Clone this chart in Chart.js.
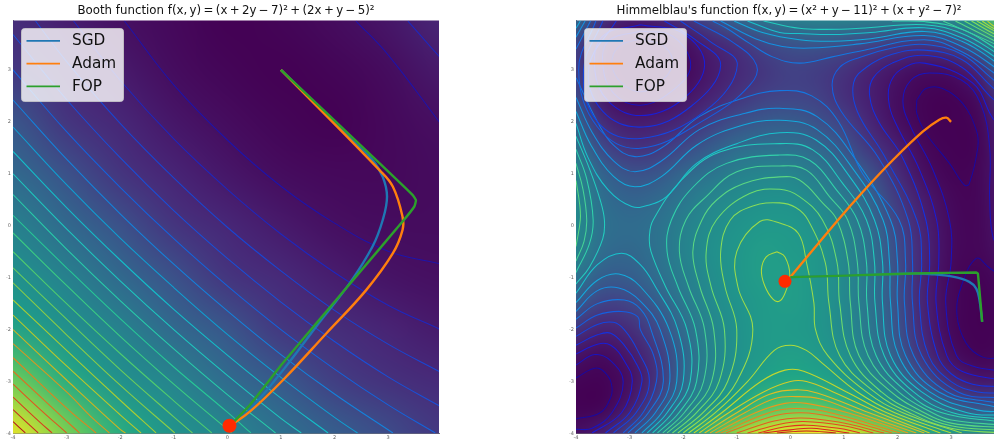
<!DOCTYPE html>
<html lang="en">
<head>
<meta charset="UTF-8">
<title>Booth and Himmelblau</title>
<script src="https://cdn.jsdelivr.net/npm/chart.js@4"></script>
<style>
html, body { margin: 0; padding: 0; width: 994px; height: 440px; overflow: hidden; background: #fff; }
.box { position: absolute; top: 0; width: 440px; height: 440px; }
</style>
</head>
<body>
<div class="box" style="left:0"><canvas id="booth"></canvas></div>
<div class="box" style="left:563px"><canvas id="himmel"></canvas></div>
<script>
// axis ticks
const tickValues = [-4, -3, -2, -1, 0, 1, 2, 3];
const seriesNames = ["SGD", "Adam", "FOP"];

// background shade, rows y = 4 .. -4, columns x = -4 .. 4 (0-100 along viridis)
const boothShade = [
  [13, 8, 4, 2, 0, 1, 3, 6, 11],
  [16, 12, 7, 3, 1, 0, 1, 3, 7],
  [27, 15, 11, 6, 3, 1, 0, 2, 4],
  [34, 25, 15, 10, 6, 3, 2, 2, 3],
  [44, 34, 25, 15, 11, 7, 4, 3, 3],
  [50, 44, 34, 25, 15, 12, 8, 5, 4],
  [58, 50, 44, 34, 27, 16, 13, 10, 7],
  [78, 62, 50, 45, 35, 28, 18, 14, 12],
  [97, 80, 62, 51, 46, 37, 30, 23, 16]
];
const himmelShade = [
  [35, 18, 12, 13, 18, 25, 33, 39, 43, 45, 45, 44, 43, 44, 47, 56, 80],
  [23, 7, 1, 2, 6, 13, 18, 24, 27, 28, 26, 23, 20, 19, 22, 33, 50],
  [22, 5, 0, 1, 4, 10, 15, 19, 22, 21, 18, 13, 9, 6, 7, 14, 33],
  [25, 9, 3, 4, 8, 13, 18, 22, 23, 22, 17, 12, 6, 2, 1, 6, 21],
  [32, 16, 11, 12, 15, 21, 26, 29, 30, 27, 22, 14, 7, 2, 0, 3, 15],
  [39, 24, 18, 19, 24, 30, 35, 37, 37, 34, 28, 19, 12, 4, 1, 2, 13],
  [45, 32, 27, 28, 33, 38, 43, 45, 45, 41, 35, 27, 16, 7, 2, 3, 12],
  [47, 36, 32, 34, 39, 45, 48, 50, 50, 47, 41, 32, 20, 11, 4, 3, 11],
  [47, 37, 35, 37, 43, 48, 51, 53, 53, 50, 45, 35, 23, 13, 5, 3, 10],
  [45, 35, 33, 37, 44, 49, 52, 55, 54, 52, 46, 37, 25, 14, 5, 3, 8],
  [38, 30, 30, 35, 42, 48, 52, 55, 55, 52, 47, 38, 26, 13, 4, 1, 5],
  [29, 22, 23, 30, 39, 47, 51, 54, 55, 52, 47, 38, 26, 13, 4, 0, 3],
  [18, 13, 16, 24, 35, 45, 50, 54, 54, 52, 47, 39, 27, 14, 4, 0, 2],
  [8, 5, 10, 19, 32, 44, 50, 54, 56, 54, 50, 42, 30, 17, 7, 2, 4],
  [2, 1, 7, 18, 33, 46, 52, 58, 60, 59, 54, 48, 38, 26, 15, 10, 11],
  [1, 2, 11, 24, 40, 51, 60, 70, 75, 74, 68, 59, 50, 42, 32, 27, 29],
  [7, 12, 23, 39, 52, 68, 84, 94, 98, 99, 96, 88, 77, 62, 55, 51, 52]
];

// Booth contours, outermost valley first
const boothLines = [
  [[3.37,3.94],[3.65,3.61],[3.96,3.25]],
  [[2.4,3.94],[3,3.29],[3.96,1.99]],
  [[-1.92,3.94],[-1,2.71],[0,1.65],[1,.76],[2,.05],[3,-.49],[3.96,-.73]],
  [[-2.87,3.94],[-2,2.8],[-1,1.67],[0,.7],[1,-.16],[2,-.9],[3,-1.53],[3.96,-1.99]],
  [[-3.58,3.94],[-3,3.16],[-2,1.97],[-1,.92],[0,-.03],[1,-.87],[2,-1.63],[3,-2.28],[3.96,-2.81]],
  [[-4,3.68],[-3,2.43],[-2,1.31],[-1,.29],[0,-.63],[1,-1.47],[2,-2.23],[3,-2.91],[3.96,-3.47]],
  [[-4,3],[-3,1.81],[-2,.74],[-1,-.25],[0,-1.16],[1,-2],[2,-2.76],[3,-3.45],[3.88,-3.99]],
  [[-4,2.42],[-3,1.28],[-2,.23],[-1,-.74],[0,-1.64],[1,-2.48],[2,-3.24],[3.09,-3.99]],
  [[-4,1.9],[-3,.79],[-2,-.24],[-1,-1.19],[0,-2.09],[1,-2.92],[2,-3.69],[2.43,-3.99]],
  [[-4,1.43],[-3,.35],[-2,-.66],[-1,-1.61],[0,-2.49],[1,-3.32],[1.88,-3.99]],
  [[-4,1],[-3,-.06],[-2,-1.06],[-1,-2],[0,-2.88],[1,-3.71],[1.38,-3.99]],
  [[-4,.6],[-3,-.45],[-2,-1.44],[-1,-2.37],[0,-3.25],[.9,-3.99]],
  [[-4,.2],[-3,-.81],[-2,-1.79],[-1,-2.72],[0,-3.59],[.44,-3.99]],
  [[-4,-.14],[-3,-1.15],[-2,-2.13],[-1,-3.05],[0,-3.92],[.08,-3.99]],
  [[-4,-.5],[-3,-1.5],[-2,-2.46],[-1,-3.37],[-.29,-3.99]],
  [[-4,-.81],[-3,-1.8],[-2,-2.77],[-1,-3.68],[-.65,-3.99]],
  [[-4,-1.1],[-3,-2.1],[-2,-3.07],[-.98,-3.99]],
  [[-4,-1.43],[-3,-2.4],[-2,-3.36],[-1.33,-3.99]],
  [[-4,-1.72],[-3,-2.7],[-2,-3.64],[-1.61,-3.99]],
  [[-4,-2],[-3,-2.97],[-2,-3.92],[-1.9,-3.99]],
  [[-4,-2.27],[-3,-3.2],[-2.5,-3.72],[-2.2,-3.99]],
  [[-4,-2.54],[-3,-3.51],[-2.45,-3.99]],
  [[-4,-2.8],[-3,-3.76],[-2.76,-3.99]],
  [[-4,-3.05],[-3.5,-3.53],[-3,-3.99]],
  [[-4,-3.3],[-3.5,-3.78],[-3.27,-3.99]],
  [[-4,-3.54],[-3.53,-3.99]],
  [[-4,-3.77],[-3.77,-3.99]]
];
const boothColors = ["#1e28be","#1e14aa","#1e14aa","#1e28be","#1946d2","#1950d7","#1464dc","#1482dc","#0fa0d2","#14bec8","#1ec8be","#28cdaa","#28c896","#3ccd82","#50cd6e","#6ecd5a","#8ccd46","#aacd32","#bec828","#d2b41e","#dc961e","#e1821e","#e16e1e","#e1551e","#d73c1e","#c8281e","#b4141e"];

// Himmelblau contours by level, each level can have several pieces
const him10 = [
  [[-2.8,3.6],[-2.35,3.45],[-2.2,3.1],[-2.45,2.75],[-2.8,2.58],[-3.15,2.75],[-3.33,3.1],[-3.2,3.45],[-2.8,3.6]],
  [[2.36,2.42],[2.53,2.64],[2.84,2.64],[3.22,2.35],[3.47,1.84],[3.5,1.52],[3.34,.81],[3.25,.78],[2.97,1.2],[2.53,1.78],[2.36,2.16],[2.36,2.42]],
  [[3.96,-1.0],[3.7,-.8],[3.47,-.63],[3.19,-1.17],[3.11,-1.72],[3.28,-2.26],[3.59,-2.53],[3.96,-2.55]],
  [[-4,-2.93],[-3.62,-2.74],[-3.4,-2.9],[-3.33,-3.1],[-3.35,-3.3],[-3.55,-3.6],[-4,-3.72]]
];
const him20 = [
  [[-2.8,3.75],[-2.2,3.65],[-1.86,3.09],[-2.2,2.6],[-2.8,2.32],[-3.3,2.55],[-3.5,3.1],[-3.4,3.55],[-2.8,3.75]],
  [[3.96,-.4],[3.79,-.25],[3.72,.5],[3.72,1.5],[3.55,2.35],[3.2,2.8],[2.6,2.94],[2.25,2.8],[2.1,2.4],[2.25,1.9],[2.65,1.1],[2.97,.11],[3,-.7],[2.9,-1.49],[3.1,-2.5],[3.4,-2.7],[3.96,-2.8]],
  [[-4,-2.68],[-3.65,-2.48],[-3.35,-2.6],[-3.12,-3],[-3.33,-3.6],[-3.7,-3.9],[-4,-3.92]]
];
const him30 = [
  [[-2.8,3.87],[-2,3.7],[-1.6,3.09],[-2.05,2.4],[-2.8,2.12],[-3.4,2.4],[-3.65,3],[-3.5,3.65],[-2.8,3.87]],
  [[3.96,1.95],[3.79,2.05],[3.4,2.75],[2.5,3.13],[2.05,3],[1.85,2.7],[1.85,2.3],[2,1.9],[2.4,1.1],[2.73,.11],[2.77,-.7],[2.72,-1.49],[2.92,-2.5],[3.2,-2.8],[3.96,-2.98]],
  [[-4,-2.47],[-3.6,-2.28],[-3.35,-2.3],[-3.1,-2.6],[-2.95,-3],[-3.15,-3.6],[-3.7,-3.99]]
];
const him40 = [
  [[-2.35,3.94],[-1.8,3.6],[-1.3,3.09],[-1.85,2.3],[-2.75,1.9],[-3.5,2.2],[-3.76,3.05],[-3.25,3.94]],
  [[3.96,2.35],[3.79,2.43],[3.2,3.05],[2.5,3.28],[1.9,3.13],[1.55,2.85],[1.48,2.5],[1.65,2],[2.1,1.3],[2.53,.11],[2.6,-.7],[2.56,-1.49],[2.75,-2.5],[3,-2.85],[3.4,-3.05],[3.96,-3.1]],
  [[-4,-2.3],[-3.6,-2.1],[-3.35,-2.07],[-3.1,-2.3],[-2.85,-2.7],[-2.77,-3],[-3,-3.6],[-3.45,-3.99]]
];
const him50 = [
  [[-2.05,3.94],[-1.5,3.55],[-.99,3.09],[-1.6,2.2],[-2.8,1.68],[-3.6,2],[-3.86,3],[-3.5,3.94]],
  [[3.96,2.55],[3.79,2.65],[3.2,3.2],[2.5,3.38],[1.9,3.3],[1.42,3.05],[1.18,2.75],[1.25,2.2],[1.75,1.35],[2.36,.11],[2.45,-.7],[2.41,-1.49],[2.58,-2.5],[3,-3],[3.5,-3.2],[3.96,-3.22]],
  [[-4,-2.13],[-3.6,-1.9],[-3.3,-1.86],[-3.1,-2],[-2.85,-2.4],[-2.63,-3],[-2.88,-3.6],[-3.3,-3.99]]
];
const him60 = [
  [[-1.8,3.94],[-1.07,3.53],[-.63,3.09],[-.76,2.7],[-1.5,2.1],[-2.8,1.49],[-3.6,1.9],[-3.95,3],[-3.63,3.94]],
  [[3.96,2.7],[3.79,2.81],[3.2,3.3],[2.5,3.49],[1.9,3.42],[1.29,3.24],[.92,3.05],[.78,2.7],[.95,2.2],[1.65,1.3],[2.2,.11],[2.28,-.7],[2.28,-1.49],[2.45,-2.5],[3.13,-3.2],[3.96,-3.32]],
  [[-4,-1.97],[-3.6,-1.72],[-3.15,-1.65],[-2.85,-1.75],[-2.8,-2],[-2.55,-2.5],[-2.5,-3],[-2.75,-3.6],[-3.12,-3.99]]
];
const him70 = [
  [[-4,2.85],[-3.6,2],[-3.3,1.55],[-2.9,1.33],[-2.4,1.5],[-1.7,2.1],[-.9,2.45],[-.2,2.6],[.4,2.5],[.9,2],[1.35,1],[2.03,.11],[2.15,-.7],[2.13,-1.49],[2.3,-2.5],[2.93,-3.2],[3.79,-3.4],[3.96,-3.42]],
  [[-1.45,3.94],[-1.19,3.8],[-.76,3.51],[-.33,3.25],[.17,3.13],[.78,3.25],[1.29,3.36],[2.5,3.58],[3.2,3.35],[3.79,2.95],[3.96,2.8]],
  [[-4,3.4],[-3.73,3.94]],
  [[-4,-1.8],[-3.6,-1.5],[-3.1,-1.43],[-2.8,-1.6],[-2.6,-2],[-2.37,-3],[-2.65,-3.6],[-3.03,-3.99]]
];
const him80 = [
  [[-4,2.47],[-3.7,1.8],[-3.3,1.25],[-2.9,1.04],[-2.4,1.25],[-1.7,1.85],[-.9,2.15],[-.2,2.26],[.5,2.1],[1.2,1.3],[1.87,.11],[2,-.7],[2,-1.49],[2.15,-2.5],[2.77,-3.2],[3.79,-3.48],[3.96,-3.5]],
  [[-1.3,3.94],[-.65,3.6],[-.15,3.45],[.36,3.42],[1.29,3.5],[2.5,3.66],[3.2,3.45],[3.79,3.07],[3.96,2.9]],
  [[-4,3.63],[-3.83,3.94]],
  [[-4,-1.65],[-3.6,-1.25],[-3.2,-1.2],[-2.8,-1.45],[-2.43,-2],[-2.25,-3],[-2.52,-3.6],[-2.9,-3.99]]
];
const him90 = [
  [[-4,2.2],[-3.72,1.55],[-3.3,.95],[-2.9,.75],[-2.4,.95],[-1.75,1.55],[-1,1.9],[-.2,2.03],[.5,1.85],[1.2,1.05],[1.73,.11],[1.85,-.7],[1.87,-1.49],[2.02,-2.5],[2.6,-3.2],[3.5,-3.55],[3.96,-3.58]],
  [[-1.05,3.94],[-.52,3.72],[.17,3.58],[.8,3.55],[1.5,3.6],[2.5,3.74],[3.2,3.55],[3.79,3.18],[3.96,3]],
  [[-4,3.8],[-3.92,3.94]],
  [[-4,-1.48],[-3.6,-1.05],[-3.2,-.93],[-2.8,-1.17],[-2.26,-2],[-2.12,-3],[-2.4,-3.6],[-2.77,-3.99]]
];
const him100 = [
  [[-4,1.97],[-3.78,1.32],[-3.4,.69],[-2.96,.37],[-2.63,.4],[-2.31,.56],[-1.75,1.2],[-1,1.58],[-.2,1.79],[.48,1.65],[1.11,.94],[1.57,.11],[1.72,-.7],[1.72,-1.49],[1.87,-2.5],[2.45,-3.2],[3.3,-3.6],[3.96,-3.65]],
  [[-.8,3.94],[-.2,3.72],[.17,3.7],[.8,3.68],[1.5,3.72],[2.5,3.81],[3.2,3.62],[3.79,3.27],[3.96,3.1]],
  [[-4,-1.3],[-3.6,-.75],[-3.15,-.53],[-2.8,-.75],[-2.52,-1.17],[-2.1,-2],[-2,-3],[-2.3,-3.6],[-2.67,-3.99]]
];
const him110 = [
  [[-2.57,-3.99],[-2.2,-3.6],[-1.87,-3],[-1.93,-2],[-2.33,-1.17],[-2.6,-.5],[-2.63,-.2],[-2.56,.11],[-2.03,.88],[-1.32,1.42],[-.2,1.58],[.42,1.46],[.98,.81],[1.42,.11],[1.57,-.7],[1.58,-1.49],[1.75,-2.5],[2.3,-3.2],[3.03,-3.6],[3.96,-3.72]],
  [[-.5,3.94],[.17,3.8],[.67,3.78],[1.3,3.8],[2.5,3.87],[3.2,3.7],[3.79,3.36],[3.96,3.2]],
  [[-4,1.72],[-3.75,1.1],[-3.55,.5],[-3.47,.11],[-3.5,-.25],[-3.75,-.8],[-4,-1.12]]
];
const him120 = [
  [[-2.48,-3.99],[-2.08,-3.6],[-1.75,-3],[-1.77,-2],[-2.1,-1.17],[-2.3,-.5],[-2.22,.11],[-1.81,.75],[-1.19,1.2],[-.2,1.36],[.36,1.26],[.86,.69],[1.25,.11],[1.42,-.7],[1.43,-1.49],[1.6,-2.5],[2.17,-3.2],[2.83,-3.6],[3.96,-3.78]],
  [[1.9,3.94],[2.5,3.93],[3.2,3.78],[3.79,3.44],[3.96,3.3]],
  [[-4,1.47],[-3.8,.9],[-3.68,.11],[-3.75,-.35],[-4,-.9]]
];
const him130 = [
  [[-2.38,-3.99],[-1.98,-3.6],[-1.62,-3],[-1.6,-2],[-1.9,-1.17],[-2.07,-.5],[-1.95,.11],[-1.57,.56],[-1,1.04],[-.2,1.15],[.3,1.07],[.73,.56],[1.07,.11],[1.25,-.7],[1.28,-1.49],[1.45,-2.5],[2.02,-3.2],[2.65,-3.6],[3,-3.74],[3.96,-3.84]],
  [[2.85,3.94],[3.79,3.51],[3.96,3.4]],
  [[-4,1.2],[-3.87,.7],[-3.8,.11],[-3.85,-.3],[-4,-.68]]
];
const him140 = [
  [[-2.3,-3.99],[-1.87,-3.6],[-1.47,-3],[-1.43,-2],[-1.69,-1.17],[-1.82,-.5],[-1.65,.11],[-1.38,.49],[-.88,.81],[-.2,.94],[.17,.88],[.61,.43],[.87,.11],[1.08,-.7],[1.12,-1.49],[1.28,-2.5],[1.88,-3.2],[2.5,-3.6],[3,-3.8],[3.96,-3.89]],
  [[3.08,3.94],[3.79,3.57],[3.96,3.47]],
  [[-4,.87],[-3.93,.4],[-3.92,.11],[-4,-.4]]
];
const him150 = [
  [[-2.2,-3.99],[-1.75,-3.6],[-1.33,-3],[-1.23,-2],[-1.48,-1.17],[-1.57,-.5],[-1.38,.11],[-.76,.62],[-.2,.7],[.17,.56],[.6,.11],[.87,-.7],[.92,-1.49],[1.12,-2.5],[1.7,-3.2],[2.36,-3.6],[3,-3.85],[3.96,-3.94]],
  [[3.25,3.94],[3.79,3.64],[3.96,3.55]]
];
const him160 = [
  [[-2.1,-3.99],[-1.63,-3.6],[-1.17,-3],[-1,-2],[-1.22,-1.17],[-1.3,-.5],[-1.12,.11],[-.7,.38],[-.2,.44],[.1,.35],[.33,.11],[.65,-.7],[.72,-1.49],[.92,-2.5],[1.57,-3.2],[2.22,-3.6],[3,-3.9],[3.96,-3.99]],
  [[3.38,3.94],[3.79,3.7],[3.96,3.62]]
];
const him170 = [
  [[-2,-3.99],[-1.52,-3.6],[-1,-3],[-.7,-2],[-.98,-1.17],[-1,-.5],[-.57,.08],[-.2,.05],[.15,-.15],[.3,-.7],[.44,-1.49],[.47,-2],[.7,-2.5],[1.42,-3.2],[2.1,-3.6],[3.2,-3.99]],
  [[3.48,3.94],[3.79,3.76],[3.96,3.68]]
];
const him180 = [
  [[-.25,-.5],[-.1,-.6],[-.01,-.95],[-.1,-1.3],[-.2,-1.45],[-.32,-1.42],[-.48,-1.15],[-.54,-.85],[-.45,-.6],[-.25,-.5]],
  [[-1.9,-3.99],[-1.4,-3.6],[-.8,-3],[-.3,-2.4],[0,-2.3],[.3,-2.4],[.6,-2.65],[1.25,-3.2],[1.95,-3.6],[3,-3.99]],
  [[3.58,3.94],[3.79,3.8],[3.96,3.74]]
];
const him190 = [
  [[-1.8,-3.99],[-1.28,-3.6],[-.55,-3],[-.1,-2.78],[.25,-2.8],[1.05,-3.2],[1.8,-3.6],[2.8,-3.99]],
  [[3.68,3.94],[3.79,3.85],[3.96,3.78]]
];
const him200 = [[[-1.7,-3.99],[-1.15,-3.6],[-.5,-3.2],[0,-3],[.3,-3],[.8,-3.2],[1.65,-3.6],[2.6,-3.99]]];
const him210 = [[[-1.6,-3.99],[-1,-3.6],[-.4,-3.25],[.1,-3.16],[.5,-3.22],[1.47,-3.6],[2.5,-3.99]]];
const him220 = [[[-1.5,-3.99],[-.85,-3.6],[-.3,-3.33],[.1,-3.29],[.55,-3.33],[1.27,-3.6],[2.35,-3.99]]];
const him230 = [[[-1.4,-3.99],[-.65,-3.6],[-.1,-3.42],[.3,-3.42],[1.07,-3.6],[2.2,-3.99]]];
const him240 = [[[-1.3,-3.99],[-.4,-3.6],[.1,-3.52],[.75,-3.6],[2.05,-3.99]]];
const him250 = [[[-1.2,-3.99],[-.3,-3.66],[.2,-3.6],[.8,-3.68],[1.9,-3.99]]];
const him260 = [[[-1,-3.99],[-.3,-3.76],[.2,-3.7],[.9,-3.78],[1.75,-3.99]]];
const him270 = [[[-.8,-3.99],[-.2,-3.82],[.25,-3.77],[1,-3.85],[1.55,-3.99]]];
const him280 = [[[-.6,-3.99],[-.1,-3.87],[.3,-3.84],[.9,-3.9],[1.3,-3.99]]];
const him290 = [[[-.5,-3.99],[0,-3.93],[.4,-3.9],[1.1,-3.99]]];
const him300 = [[[-.25,-3.99],[.3,-3.95],[.85,-3.99]]];
const himLevels = [him10, him20, him30, him40, him50, him60, him70, him80, him90, him100, him110, him120, him130, him140, him150, him160, him170, him180, him190, him200, him210, him220, him230, him240, him250, him260, him270, him280, him290, him300];
const himColors = ["#190aa0","#1914be","#191ed7","#1432e1","#1446e1","#145fe1","#1478e1","#1491e1","#14aadc","#19c3cd","#23cdbe","#32d2aa","#46d296","#5ad782","#6edc6e","#87dc5a","#9bdc4b","#afdc3c","#c3d72d","#d2cd28","#e1be23","#e6aa1e","#eb961e","#eb821e","#eb6e1e","#e65a1e","#e6461e","#e1321e","#d7231e","#c8191e"];

// optimiser paths
const boothSgd = [[1,3],[2.28,1.7],[2.7,1.28],[2.9,.94],[2.98,.56],[2.9,.11],[2.71,-.4],[2.28,-1.11],[1.66,-1.94],[1.04,-2.78],[.42,-3.54],[.05,-3.85]];
const boothAdam = [[1,3],[2.84,1.07],[3.09,.75],[3.27,.17],[3.27,-.08],[3.09,-.53],[2.59,-1.24],[1.85,-2.07],[1.04,-2.97],[.42,-3.58],[.05,-3.85]];
const boothFop = [[1,3],[2.71,1.33],[3.46,.59],[3.52,.49],[3.49,.37],[3.27,.08],[2.4,-.98],[1.66,-1.88],[1.04,-2.64],[.42,-3.45],[.05,-3.85]];
const boothEnd = [[.04,-3.85]];
const himSgd = [[0,-.99],[1.04,-.96],[2.29,-.92],[2.6,-.93],[3.03,-.98],[3.34,-1.08],[3.47,-1.21],[3.53,-1.43],[3.58,-1.85]];
const himAdam = [[0,-.99],[.89,.11],[1.35,.65],[1.91,1.26],[2.47,1.81],[2.78,2.04],[2.91,2.08],[3,2]];
const himFop = [[0,-.99],[1.04,-.96],[2.29,-.92],[3.47,-.9],[3.5,-.92],[3.58,-1.85]];
const himEnd = [[-.1,-1.07]];

const viridis = ["#440154","#482475","#414487","#355f8d","#2a788e","#21918c","#22a884","#44bf70","#7ad151","#bddf26","#fde725"];
const pathColors = ["#1f77b4", "#ff7f0e", "#2ca02c"];

function hexRgb(h) {
    return [parseInt(h.slice(1, 3), 16), parseInt(h.slice(3, 5), 16), parseInt(h.slice(5, 7), 16)];
}
function shadeRgb(v) {
    var t = v / 100 * (viridis.length - 1);
    var i = Math.min(Math.floor(t), viridis.length - 2);
    var a = hexRgb(viridis[i]), b = hexRgb(viridis[i + 1]), f = t - i;
    return [0, 1, 2].map(k => Math.round(a[k] + (b[k] - a[k]) * f));
}
// bend darkens the low end of the colour ramp
function shadeCanvas(grid, bend) {
    var c = document.createElement("canvas");
    c.width = grid[0].length;
    c.height = grid.length;
    var g = c.getContext("2d");
    var img = g.createImageData(c.width, c.height);
    grid.forEach((row, r) => row.forEach((v, q) => {
        var w = v < 33 ? v * Math.pow(v / 33, bend) : v;
        var rgb = shadeRgb(w), o = (r * c.width + q) * 4;
        img.data[o] = rgb[0]; img.data[o + 1] = rgb[1]; img.data[o + 2] = rgb[2]; img.data[o + 3] = 255;
    }));
    g.putImageData(img, 0, 0);
    return c;
}

// paints the shade grid behind the datasets, placed with the chart's scales
const shadePlugin = {
    id: "shade",
    beforeDatasetsDraw(chart, args, opts) {
        var a = chart.chartArea, ctx = chart.ctx, x = chart.scales.x, y = chart.scales.y;
        var src = opts.image;
        var x0 = x.getPixelForValue(-4), x1 = x.getPixelForValue(4);
        var y0 = y.getPixelForValue(4), y1 = y.getPixelForValue(-4);
        ctx.save();
        ctx.beginPath();
        ctx.rect(a.left, a.top, a.right - a.left, a.bottom - a.top);
        ctx.clip();
        ctx.imageSmoothingEnabled = true;
        ctx.imageSmoothingQuality = "high";
        ctx.drawImage(src, .5, .5, src.width - 1, src.height - 1, x0, y0, x1 - x0, y1 - y0);
        ctx.restore();
    }
};

// matplotlib style legend in the upper left corner
const cornerLegend = {
    id: "cornerLegend",
    afterDraw(chart) {
        var ctx = chart.ctx, a = chart.chartArea;
        var left = a.left + 8.5, top = a.top + 8;
        ctx.save();
        ctx.beginPath();
        ctx.roundRect(left, top, 102, 73, 3);
        ctx.fillStyle = "rgba(255,255,255,0.8)";
        ctx.fill();
        ctx.strokeStyle = "rgba(204,204,204,0.8)";
        ctx.lineWidth = 1;
        ctx.stroke();
        ctx.font = "15.3px 'DejaVu Sans'";
        ctx.textBaseline = "middle";
        seriesNames.forEach((name, i) => {
            var yy = top + 12.4 + i * 22.7;
            ctx.strokeStyle = pathColors[i];
            ctx.lineWidth = 1.8;
            ctx.beginPath();
            ctx.moveTo(left + 5, yy);
            ctx.lineTo(left + 38.5, yy);
            ctx.stroke();
            ctx.fillStyle = "#111";
            ctx.fillText(name, left + 50.5, yy + .5);
        });
        ctx.restore();
    }
};

function toPoints(list) {
    return list.map(p => ({ x: p[0], y: p[1] }));
}
function contourSet(points, color) {
    return { data: toPoints(points), showLine: true, borderColor: color, borderWidth: 1.05, pointRadius: 0, tension: .4, order: 10 };
}
function pathSet(points, color, tension, order) {
    return { data: toPoints(points), showLine: true, borderColor: color, borderWidth: 2.4, pointRadius: 0, tension: tension, order: order };
}
function noPadding(s) {
    s.paddingLeft = s.paddingRight = s.paddingTop = s.paddingBottom = 0;
}

function makeChart(id, titleText, contours, shade, bend, paths, end, radius) {
    var sets = contours.concat([
        pathSet(paths[0], pathColors[0], .4, 3),
        pathSet(paths[1], pathColors[1], .4, 2),
        pathSet(paths[2], pathColors[2], .12, 1),
        { data: toPoints(end), pointRadius: radius, pointBackgroundColor: "#ff2a00", pointBorderWidth: 0, order: 0 }
    ]);
    return new Chart(document.getElementById(id), {
        type: "scatter",
        data: { datasets: sets },
        plugins: [shadePlugin, cornerLegend],
        options: {
            responsive: false,
            animation: false,
            events: [],
            layout: { autoPadding: false, padding: { right: 1 } },
            plugins: {
                legend: { display: false },
                tooltip: { enabled: false },
                shade: { image: shadeCanvas(shade, bend) },
                title: {
                    display: true,
                    text: titleText,
                    fullSize: false,
                    color: "#111",
                    font: { family: "'DejaVu Sans'", size: 11.8, weight: "normal", lineHeight: 1.2 },
                    padding: { top: 4.3, bottom: 2.06 }
                }
            },
            scales: {
                x: {
                    type: "linear", min: -4, max: 3.95,
                    grid: { display: false, drawTicks: false },
                    border: { color: "#777", width: 1 },
                    afterBuildTicks(s) { s.ticks = tickValues.map(v => ({ value: v })); },
                    afterFit(s) { s.height = 6.5; noPadding(s); },
                    ticks: { autoSkip: false, padding: 1, maxRotation: 0, color: "#666", font: { family: "'DejaVu Sans'", size: 5 } }
                },
                y: {
                    type: "linear", min: -4, max: 3.95,
                    grid: { display: false, drawTicks: false },
                    border: { color: "#777", width: 1 },
                    afterBuildTicks(s) { s.ticks = tickValues.map(v => ({ value: v })); },
                    afterFit(s) { s.width = 13; noPadding(s); },
                    ticks: { autoSkip: false, padding: 2, color: "#666", font: { family: "'DejaVu Sans'", size: 5 } }
                }
            }
        }
    });
}

var boothContours = boothLines.map((l, i) => contourSet(l, boothColors[i]));
var himContours = [];
himLevels.forEach((pieces, i) => pieces.forEach(p => himContours.push(contourSet(p, himColors[i]))));

document.getElementById("booth").width = 440;
document.getElementById("booth").height = 440;
document.getElementById("himmel").width = 440;
document.getElementById("himmel").height = 440;

makeChart("booth", "Booth function f(x,\u2009y)\u2009=\u2009(x\u2009+\u20092y\u2009\u2212\u20097)\u00b2\u2009+\u2009(2x\u2009+\u2009y\u2009\u2212\u20095)\u00b2", boothContours, boothShade, 0, [boothSgd, boothAdam, boothFop], boothEnd, 7);
makeChart("himmel", "Himmelblau's function f(x,\u2009y)\u2009=\u2009(x\u00b2\u2009+\u2009y\u2009\u2212\u200911)\u00b2\u2009+\u2009(x\u2009+\u2009y\u00b2\u2009\u2212\u20097)\u00b2", himContours, himmelShade, .35, [himSgd, himAdam, himFop], himEnd, 6.5);
</script>
</body>
</html>
